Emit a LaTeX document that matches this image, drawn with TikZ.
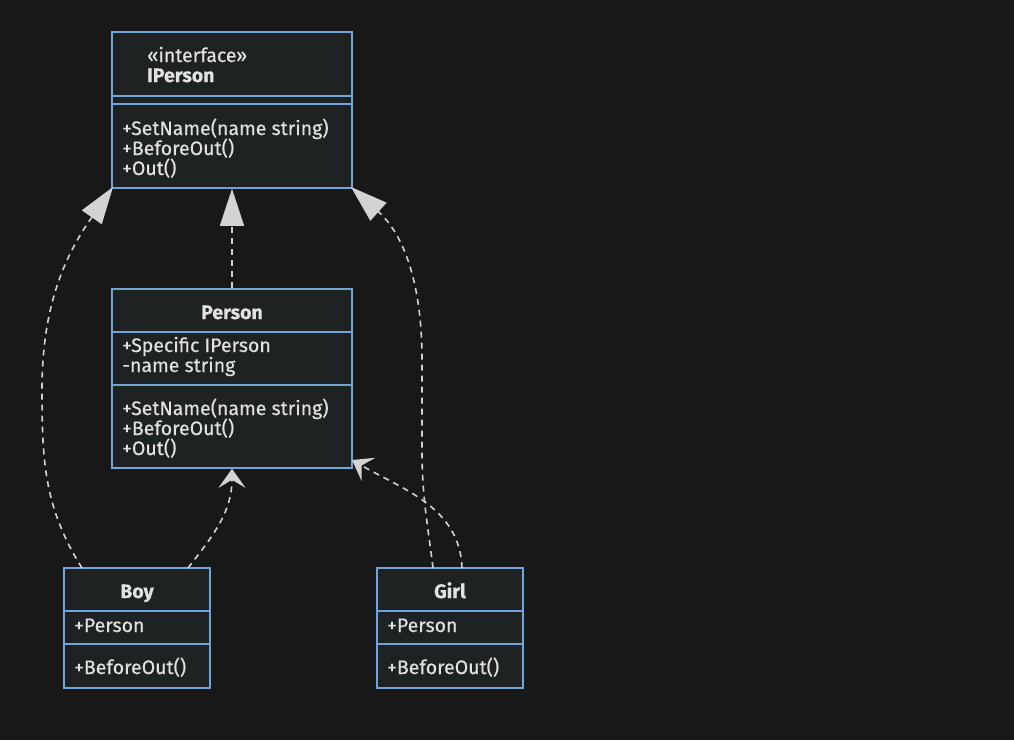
\documentclass[tikz,border=0pt]{standalone}
\usepackage{fontspec}
\setmainfont{Fira Sans}[FakeBold=0.4]
\usetikzlibrary{arrows.meta}
\definecolor{bgc}{HTML}{181818}
\definecolor{boxfill}{HTML}{1F2222}
\definecolor{boxborder}{HTML}{6FA5D8}
\definecolor{txt}{HTML}{E2E2E2}
\definecolor{lnc}{HTML}{D3D3D3}
\tikzset{
  umlbox/.style={draw=boxborder, fill=boxfill, line width=1.6pt, inner sep=0pt},
  sep/.style={draw=boxborder, line width=1.6pt},
  lbl/.style={text=txt, font=\fontsize{19.5}{20}\selectfont, anchor=base west, inner sep=0pt},
  ttl/.style={text=txt, font=\fontsize{19.5}{20}\selectfont\bfseries, anchor=base, inner sep=0pt},
  dep/.style={draw=lnc, line width=1.6pt, dash pattern=on 6pt off 5pt},
  realize/.style={dep, -{Triangle[length=37pt, width=24pt, fill=lnc]}},
  uses/.style={dep, -{Stealth[length=19pt, width=27pt, inset=8pt, fill=lnc]}}
}
\begin{document}
\begin{tikzpicture}[x=1pt, y=-1pt]
\useasboundingbox[fill=bgc] (0,0) rectangle (1014,740);
% IPerson
\node[umlbox, minimum width=240pt, minimum height=156pt] (iperson) at (232,110) {};
\draw[sep] (112,96) -- (352,96);
\draw[sep] (112,104) -- (352,104);
\node[lbl] (ip1) at (147,62) {«interface»};
\node[lbl, font=\fontsize{19.5}{20}\selectfont\bfseries] (ip2) at (147,82) {IPerson};
\node[lbl] (ip3) at (122,135) {+SetName(name string)};
\node[lbl] (ip4) at (122,155) {+BeforeOut()};
\node[lbl] (ip5) at (122,175) {+Out()};
% Person
\node[umlbox, minimum width=240pt, minimum height=179pt] (person) at (232,378.5) {};
\draw[sep] (112,332) -- (352,332);
\draw[sep] (112,385) -- (352,385);
\node[ttl] (p0) at (232,319) {Person};
\node[lbl] (p1) at (122,352) {+Specific IPerson};
\node[lbl] (p2) at (122,372) {-name string};
\node[lbl] (p3) at (122,415) {+SetName(name string)};
\node[lbl] (p4) at (122,435) {+BeforeOut()};
\node[lbl] (p5) at (122,455) {+Out()};
% Boy
\node[umlbox, minimum width=146pt, minimum height=120pt] (boy) at (137,628) {};
\draw[sep] (64,611) -- (210,611);
\draw[sep] (64,644) -- (210,644);
\node[ttl] (b0) at (137,598) {Boy};
\node[lbl] (b1) at (74,632) {+Person};
\node[lbl] (b2) at (74,674) {+BeforeOut()};
% Girl
\node[umlbox, minimum width=146pt, minimum height=120pt] (girl) at (450,628) {};
\draw[sep] (377,611) -- (523,611);
\draw[sep] (377,644) -- (523,644);
\node[ttl] (g0) at (450,598) {Girl};
\node[lbl] (g1) at (387,632) {+Person};
\node[lbl] (g2) at (387,674) {+BeforeOut()};
% connector anchors
\coordinate (boyL) at (82,568);
\coordinate (boyR) at (188,568);
\coordinate (girlL) at (433,568);
\coordinate (girlR) at (462,568);
\coordinate (personBR) at (352,460);
\coordinate (ipSW) at (113,187);
\coordinate (ipSE) at (351,187);
% connectors
\draw[realize] (person.north) -- (iperson.south);
\draw[realize] (boyL) to[out=122, in=-90] (42,390) to[out=90, in=-125] (ipSW);
\draw[realize] (girlL) to[out=97, in=-90] (422,450) -- (422,360) to[out=90, in=-42] (ipSE);
\draw[uses] (boyR) to[out=52, in=-90] (person.south);
\draw[uses] (girlR) to[out=92, in=-30] (personBR);
\end{tikzpicture}
\end{document}
